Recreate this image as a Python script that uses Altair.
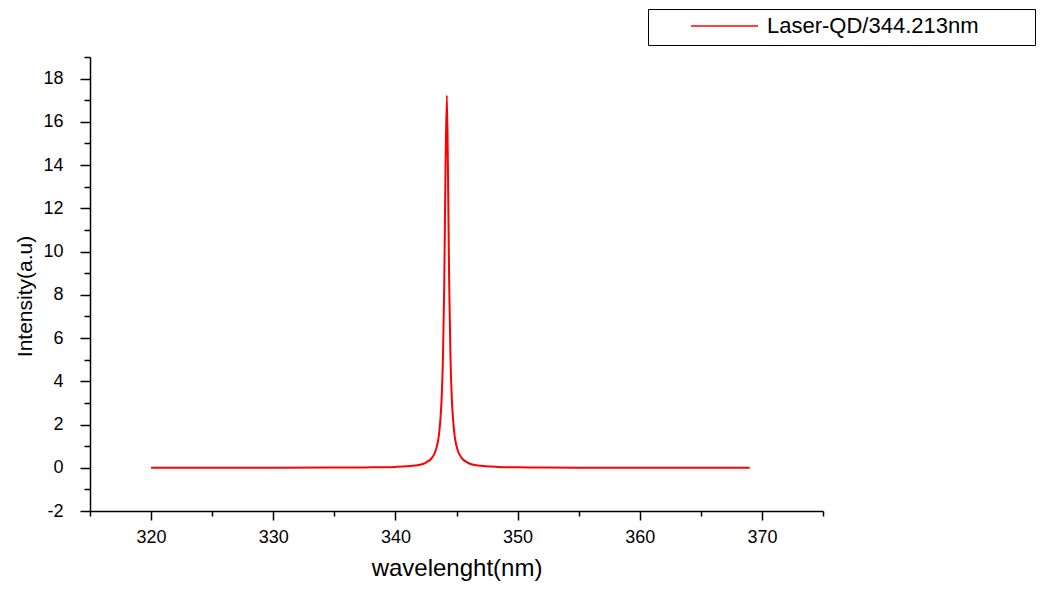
import altair as alt
import pandas as pd

# Values
wavelength = [320, 325, 330, 335, 338, 340, 341, 342, 342.5, 343, 343.3, 343.6,
              343.8, 343.9, 344.0, 344.1, 344.21, 344.3, 344.4, 344.5, 344.6,
              344.8, 345.1, 345.4, 345.9, 346.4, 347.4, 348.4, 350, 352, 355,
              360, 365, 369]
intensity = [0.001, 0.002, 0.003, 0.008, 0.018, 0.04, 0.07, 0.14, 0.24, 0.47,
             0.81, 1.72, 3.44, 5.29, 8.6, 13.8, 17.22, 13.8, 8.6, 5.29, 3.44,
             1.72, 0.81, 0.47, 0.24, 0.14, 0.07, 0.04, 0.02, 0.011, 0.006,
             0.003, 0.002, 0.001]
series_name = "Laser-QD/344.213nm"

x_ticks = [315, 320, 325, 330, 335, 340, 345, 350, 355, 360, 365, 370, 375]
y_ticks = list(range(-2, 20))

FONT = "Liberation Sans"

df = pd.DataFrame({"wavelength": wavelength, "intensity": intensity,
                   "series": [series_name] * len(wavelength)})

pad = "\u2800" * 3

chart = alt.Chart(df).mark_line(strokeWidth=2, interpolate="monotone").encode(
    x=alt.X(
        "wavelength:Q",
        scale=alt.Scale(domain=[315, 375], nice=False, zero=False),
        axis=alt.Axis(
            values=x_ticks,
            title="wavelenght(nm)",
            labelExpr="datum.value % 10 == 0 ? '' + datum.value : ''",
            tickSize={"condition": {"test": "datum.value % 10 != 0", "value": 5}, "value": 9},
            labelPadding=8,
            labelFontSize=18,
            titleFontSize=24,
            titleBaseline="alphabetic",
            titleY=64,
            labelOverlap=False,
            labelFlush=False,
        ),
    ),
    y=alt.Y(
        "intensity:Q",
        scale=alt.Scale(domain=[-2, 19], nice=False, zero=False),
        axis=alt.Axis(
            values=y_ticks,
            title="Intensity(a.u)",
            labelExpr="datum.value % 2 == 0 ? '' + datum.value : ''",
            tickSize={"condition": {"test": "datum.value % 2 != 0", "value": 6}, "value": 10},
            labelPadding=17,
            labelFontSize=18,
            titleFontSize=21,
            titleAngle=270,
            titleAlign="center",
            titleBaseline="alphabetic",
            titleX=-59,
            titleY=239,
            labelOverlap=False,
            labelFlush=False,
        ),
    ),
    color=alt.Color(
        "series:N",
        scale=alt.Scale(range=["#ff0000"]),
        legend=alt.Legend(
            title=None,
            orient="none",
            legendX=558,
            legendY=-48,
            symbolType="stroke",
            symbolSize=4489,
            symbolStrokeWidth=1.5,
            strokeColor="black",
            fillColor="white",
            padding=8,
            symbolOffset=34,
            labelOffset=8,
            labelFont=FONT,
            labelFontSize=22,
            labelColor="black",
            labelLimit=600,
            clipHeight=18,
            labelExpr="datum.label + '" + pad + "'",
        ),
    ),
).properties(
    width=733,
    height=454,
    autosize=alt.AutoSizeParams(type="none"),
    padding={"left": 82, "top": 49, "right": 222, "bottom": 70},
).configure_view(
    strokeWidth=0
).configure_axis(
    grid=False,
    domainColor="black",
    domainWidth=1.5,
    tickColor="black",
    tickWidth=1.5,
    labelColor="black",
    titleColor="black",
    labelFont=FONT,
    titleFont=FONT,
    titleFontWeight="normal",
)

chart.save("out.html", embed_options={"renderer": "svg", "actions": False})
